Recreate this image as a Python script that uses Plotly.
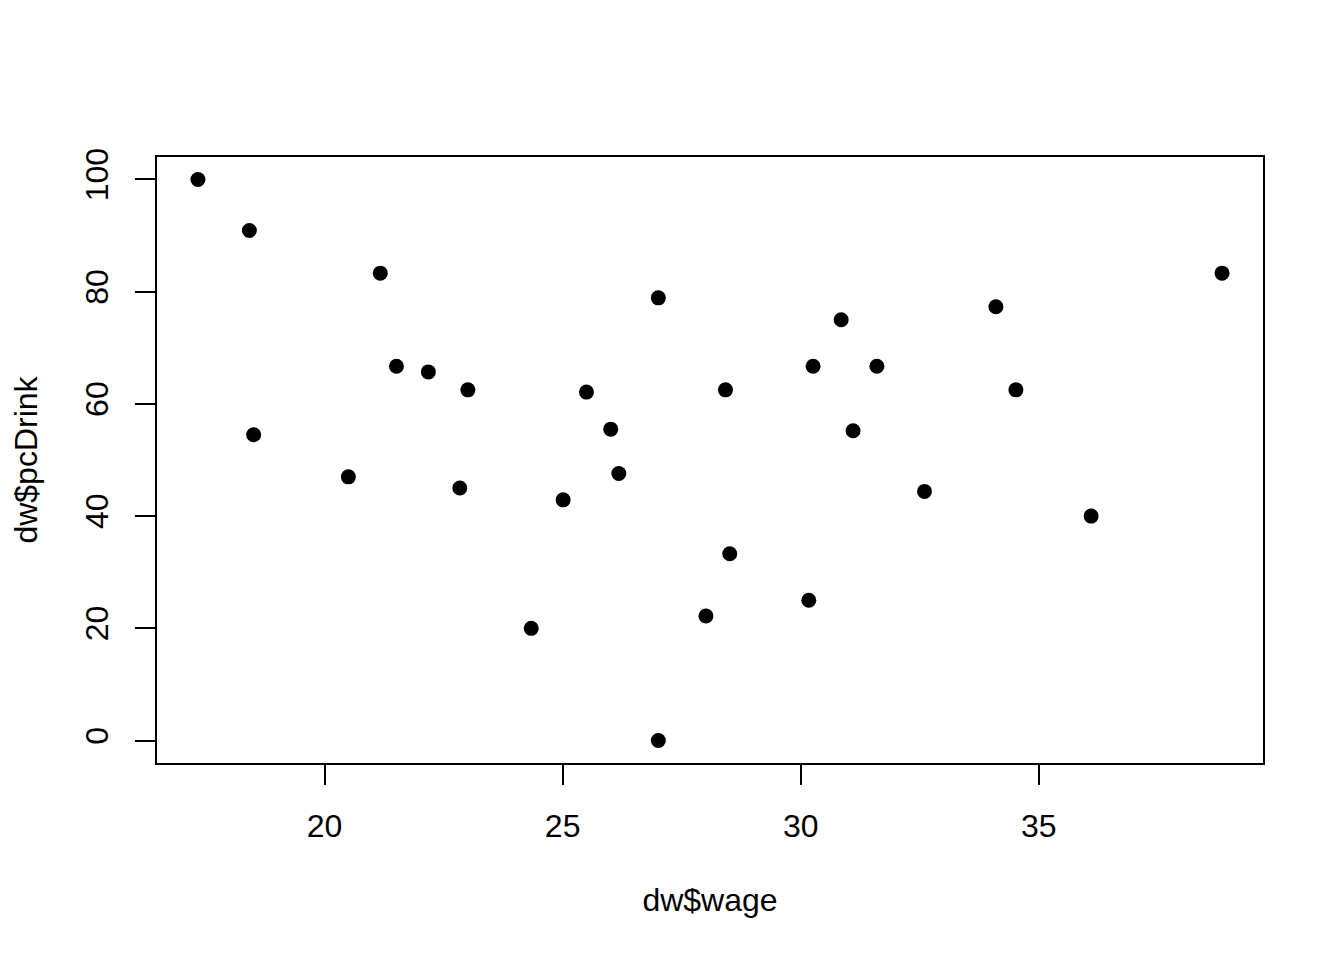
import plotly.graph_objects as go

wage = [17.34, 18.42, 21.17, 21.51, 22.18, 23.01, 18.51, 20.50, 22.84,
        27.01, 30.26, 25.50, 28.42, 26.01, 26.18, 25.01, 28.51, 30.17,
        28.01, 24.34, 27.01,
        38.85, 34.10, 30.85, 31.60, 34.52, 31.10, 32.60, 36.10]
pcDrink = [100.0, 90.9, 83.3, 66.7, 65.7, 62.5, 54.5, 47.0, 45.0,
           78.9, 66.7, 62.1, 62.5, 55.5, 47.6, 42.9, 33.3, 25.0,
           22.2, 20.0, 0.0,
           83.3, 77.3, 75.0, 66.7, 62.5, 55.2, 44.4, 40.0]

x_ticks = [20, 25, 30, 35]
y_ticks = [0, 20, 40, 60, 80, 100]

FONT = "Liberation Sans, Arial, Helvetica, sans-serif"

fig = go.Figure()
fig.add_trace(go.Scatter(
    x=wage, y=pcDrink, mode="markers",
    marker=dict(color="black", size=15, line=dict(width=0)),
    showlegend=False,
))

fig.update_layout(
    width=1344, height=960,
    paper_bgcolor="white", plot_bgcolor="white",
    margin=dict(l=149, r=89, t=149, b=205, autoexpand=False),
    font=dict(family=FONT, size=32, color="black"),
    xaxis=dict(
        range=[16.48, 39.71], tickvals=x_ticks, ticktext=[str(v) for v in x_ticks],
        showgrid=False, zeroline=False, showline=True, mirror=True,
        linecolor="black", linewidth=2,
        ticks="outside", ticklen=20, tickwidth=1.5, tickcolor="black",
        ticklabelstandoff=14,
        tickfont=dict(family=FONT, size=32, color="black"),
        title=dict(text="dw$wage", standoff=45,
                   font=dict(family=FONT, size=32, color="black")),
        automargin=False,
    ),
    yaxis=dict(
        range=[-4, 104], tickvals=y_ticks, ticktext=[str(v) for v in y_ticks],
        showgrid=False, zeroline=False, showline=True, mirror=True,
        linecolor="black", linewidth=2,
        ticks="outside", ticklen=20, tickwidth=1.5, tickcolor="black",
        tickangle=-90, ticklabelstandoff=14,
        tickfont=dict(family=FONT, size=32, color="black"),
        title=dict(text="dw$pcDrink", standoff=32,
                   font=dict(family=FONT, size=32, color="black")),
        automargin=False,
    ),
)

fig.write_html("out.html")
